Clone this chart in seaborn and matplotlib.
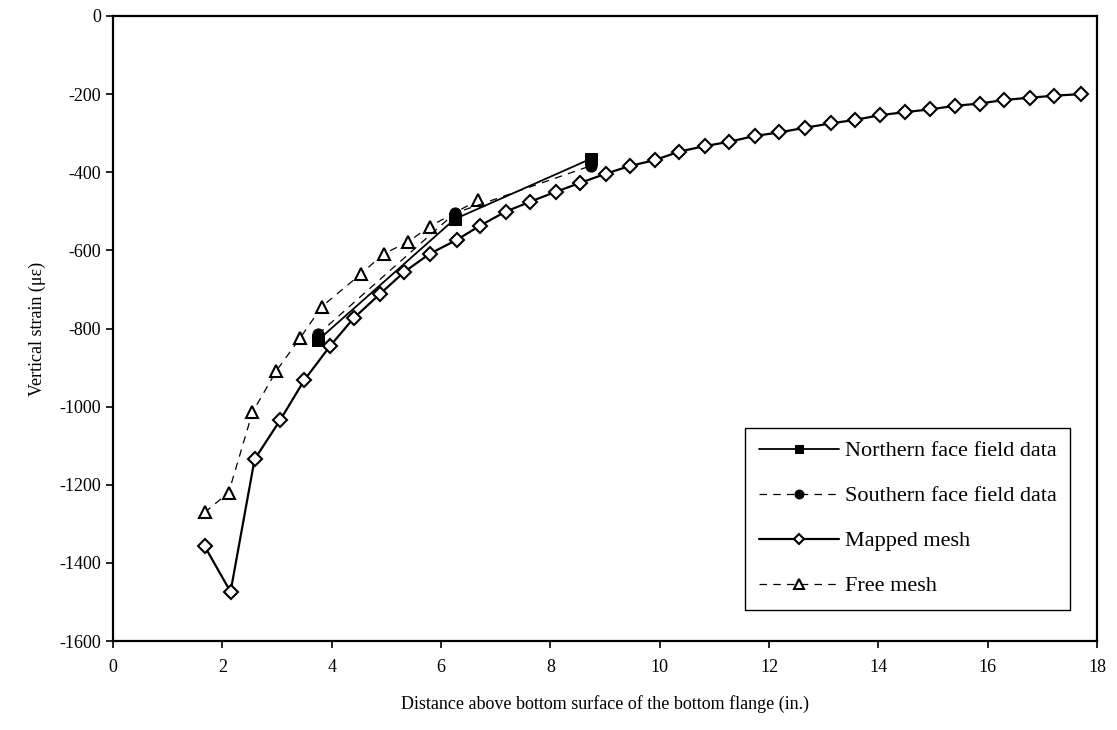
import matplotlib
matplotlib.use("Agg")
import matplotlib.pyplot as plt
import seaborn as sns
import pandas as pd

# ---- data ----
north_x = [3.75, 6.25, 8.75]
north_y = [-830, -520, -365]

south_x = [3.75, 6.25, 8.75]
south_y = [-815, -505, -383]

mapped_x = [1.675, 2.15, 2.59, 3.06, 3.50, 3.97, 4.40, 4.88, 5.33, 5.79, 6.29, 6.71,
            7.18, 7.62, 8.10, 8.55, 9.01, 9.45, 9.91, 10.36, 10.83, 11.27, 11.74, 12.19,
            12.66, 13.13, 13.57, 14.03, 14.49, 14.95, 15.40, 15.86, 16.30, 16.78, 17.22, 17.70]
mapped_y = [-1357, -1474, -1135, -1034, -932, -845, -774, -712, -655, -609, -573, -537,
            -501, -476, -450, -427, -404, -384, -369, -347, -333, -322, -307, -298,
            -286, -275, -266, -254, -246, -239, -230, -224, -215, -209, -204, -200]

free_x = [1.675, 2.116, 2.55, 2.99, 3.42, 3.82, 4.53, 4.95, 5.40, 5.79, 6.68]
free_y = [-1271, -1220, -1015, -908, -825, -744, -661, -609, -578, -539, -471]

x_ticks = [0, 2, 4, 6, 8, 10, 12, 14, 16, 18]
y_ticks = [0, -200, -400, -600, -800, -1000, -1200, -1400, -1600]

labels = ["Northern face field data", "Southern face field data", "Mapped mesh", "Free mesh"]

sns.set_style("white")
plt.rcParams['font.family'] = ['Liberation Serif', 'DejaVu Serif']
plt.rcParams['text.color'] = 'black'
plt.rcParams['axes.labelcolor'] = 'black'
plt.rcParams['xtick.color'] = 'black'
plt.rcParams['ytick.color'] = 'black'

fig = plt.figure(figsize=(11.17, 7.30), dpi=100)
ax = fig.add_axes([113 / 1117, 1 - 641 / 730, (1097 - 113) / 1117, (641 - 16) / 730])

sns.lineplot(x=mapped_x, y=mapped_y, ax=ax, sort=False, color="black", lw=1.6,
             marker="D", markersize=7, markerfacecolor="white", markeredgecolor="black",
             markeredgewidth=1.5, label=labels[2], zorder=3)
sns.lineplot(x=free_x, y=free_y, ax=ax, sort=False, color="black", lw=0.9,
             linestyle=(0, (6, 5)), marker="^", markersize=9, markerfacecolor="white",
             markeredgecolor="black", markeredgewidth=1.5, label=labels[3], zorder=3)
sns.lineplot(x=north_x, y=north_y, ax=ax, sort=False, color="black", lw=1.3,
             marker="s", markersize=8, markerfacecolor="black", markeredgecolor="black",
             label=labels[0], zorder=4)
sns.lineplot(x=south_x, y=south_y, ax=ax, sort=False, color="black", lw=0.9,
             linestyle=(0, (6, 5)), marker="o", markersize=8, markerfacecolor="black",
             markeredgecolor="black", label=labels[1], zorder=4)

ax.set_xlim(0, 18)
ax.set_ylim(-1600, 0)
ax.set_xticks(x_ticks)
ax.set_yticks(y_ticks)
ax.set_xticklabels([str(v) for v in x_ticks])
ax.set_yticklabels([str(v) for v in y_ticks])
ax.tick_params(axis="both", direction="out", length=5, width=1.2, labelsize=13,
               color="black", labelcolor="black", bottom=True, left=True)
ax.tick_params(axis="x", pad=8)
for s in ax.spines.values():
    s.set_color("black")
    s.set_linewidth(1.6)

ax.set_xlabel("Distance above bottom surface of the bottom flange (in.)", fontsize=13,
              labelpad=14, color="black")
ax.set_ylabel("Vertical strain (\u03bc\u03b5)", fontsize=13, labelpad=10, color="black")

handles, lbls = ax.get_legend_handles_labels()
order = [lbls.index(l) for l in labels]
leg = ax.legend([handles[i] for i in order], [lbls[i] for i in order],
                loc="lower right", bbox_to_anchor=(0.973, 0.05), borderaxespad=0,
                fontsize=16, frameon=True, fancybox=False, edgecolor="black",
                framealpha=1, handlelength=3.6, labelspacing=1.1, handletextpad=0.3,
                borderpad=0.6, numpoints=1, markerscale=0.8)
leg.get_frame().set_linewidth(1.0)
for t in leg.get_texts():
    t.set_color("black")

fig.savefig("out.png", dpi=100)
